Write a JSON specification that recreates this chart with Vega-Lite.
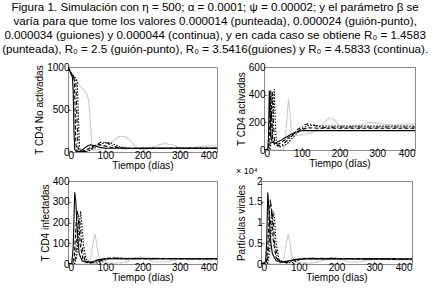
{
"$schema": "https://vega.github.io/schema/vega-lite/v6.json",
"padding": {"left": 2, "top": 1, "right": 0, "bottom": 0},
"background": "white",
"title": {"text": ["Figura 1. Simulación con η = 500; α = 0.0001; ψ = 0.00002; y el parámetro β se", "varía para que tome los valores 0.000014 (punteada), 0.000024 (guión-punto),", "0.000034 (guiones) y 0.000044 (continua), y en cada caso se obtiene R₀ = 1.4583", "(punteada), R₀ = 2.5 (guión-punto), R₀ = 3.5416(guiones) y R₀ = 4.5833 (continua)."], "font": "Liberation Sans", "fontSize": 11.6, "fontWeight": "normal", "lineHeight": 14, "anchor": "middle", "frame": "bounds", "offset": 6, "dx": -10, "color": "#000"},
"config": {
 "view": {"stroke": "#8c8c8c", "strokeWidth": 1},
 "axis": {"labelFont": "Liberation Sans", "titleFont": "Liberation Sans", "labelFontSize": 10, "titleFontSize": 10, "titleFontWeight": "normal", "labelColor": "#000", "titleColor": "#000", "domain": false, "grid": false, "tickColor": "#8c8c8c", "tickSize": -3, "labelPadding": 2},
 "axisX": {"titlePadding": 0, "labelPadding": 1},
 "axisY": {"titlePadding": 2},
 "line": {"strokeWidth": 1.1}
},
"datasets": {
"A": [
{"s":"g","t":0,"v":1000},{"s":"g","t":10,"v":930},{"s":"g","t":20,"v":860},{"s":"g","t":30,"v":790},{"s":"g","t":40,"v":740},{"s":"g","t":50,"v":690},{"s":"g","t":56,"v":600},{"s":"g","t":60,"v":350},{"s":"g","t":64,"v":80},{"s":"g","t":70,"v":20},{"s":"g","t":85,"v":30},{"s":"g","t":100,"v":60},{"s":"g","t":120,"v":130},{"s":"g","t":140,"v":185},{"s":"g","t":155,"v":180},{"s":"g","t":170,"v":120},{"s":"g","t":185,"v":50},{"s":"g","t":200,"v":25},{"s":"g","t":220,"v":40},{"s":"g","t":245,"v":85},{"s":"g","t":260,"v":100},{"s":"g","t":280,"v":85},{"s":"g","t":305,"v":45},{"s":"g","t":330,"v":50},{"s":"g","t":360,"v":65},{"s":"g","t":385,"v":75},{"s":"g","t":400,"v":70},
{"s":"c","t":0,"v":1000},{"s":"c","t":4,"v":960},{"s":"c","t":8,"v":920},{"s":"c","t":12,"v":880},{"s":"c","t":14,"v":700},{"s":"c","t":16,"v":250},{"s":"c","t":18,"v":30},{"s":"c","t":22,"v":5},{"s":"c","t":30,"v":5},{"s":"c","t":40,"v":30},{"s":"c","t":50,"v":65},{"s":"c","t":60,"v":85},{"s":"c","t":70,"v":75},{"s":"c","t":85,"v":55},{"s":"c","t":100,"v":45},{"s":"c","t":130,"v":45},{"s":"c","t":400,"v":45},
{"s":"d","t":0,"v":1000},{"s":"d","t":8,"v":920},{"s":"d","t":14,"v":880},{"s":"d","t":17,"v":850},{"s":"d","t":19,"v":500},{"s":"d","t":21,"v":100},{"s":"d","t":24,"v":10},{"s":"d","t":35,"v":5},{"s":"d","t":50,"v":25},{"s":"d","t":65,"v":65},{"s":"d","t":80,"v":90},{"s":"d","t":95,"v":75},{"s":"d","t":115,"v":55},{"s":"d","t":150,"v":45},{"s":"d","t":400,"v":45},
{"s":"dp","t":0,"v":1000},{"s":"dp","t":8,"v":920},{"s":"dp","t":16,"v":880},{"s":"dp","t":21,"v":840},{"s":"dp","t":24,"v":400},{"s":"dp","t":27,"v":50},{"s":"dp","t":30,"v":5},{"s":"dp","t":45,"v":5},{"s":"dp","t":60,"v":30},{"s":"dp","t":75,"v":80},{"s":"dp","t":90,"v":120},{"s":"dp","t":105,"v":105},{"s":"dp","t":125,"v":65},{"s":"dp","t":155,"v":40},{"s":"dp","t":200,"v":45},{"s":"dp","t":400,"v":45},
{"s":"p","t":0,"v":1000},{"s":"p","t":10,"v":920},{"s":"p","t":20,"v":870},{"s":"p","t":25,"v":830},{"s":"p","t":28,"v":400},{"s":"p","t":31,"v":50},{"s":"p","t":34,"v":5},{"s":"p","t":50,"v":5},{"s":"p","t":70,"v":40},{"s":"p","t":90,"v":95},{"s":"p","t":105,"v":115},{"s":"p","t":120,"v":95},{"s":"p","t":140,"v":60},{"s":"p","t":170,"v":40},{"s":"p","t":220,"v":48},{"s":"p","t":400,"v":45}
],
"B": [
{"s":"g","t":0,"v":0},{"s":"g","t":40,"v":0},{"s":"g","t":50,"v":2},{"s":"g","t":55,"v":30},{"s":"g","t":60,"v":200},{"s":"g","t":65,"v":370},{"s":"g","t":68,"v":300},{"s":"g","t":72,"v":150},{"s":"g","t":78,"v":100},{"s":"g","t":90,"v":105},{"s":"g","t":110,"v":115},{"s":"g","t":130,"v":130},{"s":"g","t":150,"v":165},{"s":"g","t":165,"v":215},{"s":"g","t":175,"v":230},{"s":"g","t":185,"v":220},{"s":"g","t":200,"v":175},{"s":"g","t":215,"v":160},{"s":"g","t":240,"v":170},{"s":"g","t":260,"v":185},{"s":"g","t":280,"v":200},{"s":"g","t":300,"v":195},{"s":"g","t":320,"v":185},{"s":"g","t":340,"v":180},{"s":"g","t":370,"v":185},{"s":"g","t":400,"v":190},
{"s":"c","t":0,"v":0},{"s":"c","t":10,"v":5},{"s":"c","t":12,"v":100},{"s":"c","t":14,"v":430},{"s":"c","t":16,"v":300},{"s":"c","t":18,"v":100},{"s":"c","t":22,"v":55},{"s":"c","t":30,"v":50},{"s":"c","t":45,"v":70},{"s":"c","t":60,"v":95},{"s":"c","t":80,"v":125},{"s":"c","t":100,"v":140},{"s":"c","t":130,"v":140},{"s":"c","t":400,"v":140},
{"s":"d","t":0,"v":0},{"s":"d","t":12,"v":5},{"s":"d","t":15,"v":150},{"s":"d","t":18,"v":430},{"s":"d","t":20,"v":250},{"s":"d","t":23,"v":80},{"s":"d","t":28,"v":40},{"s":"d","t":40,"v":45},{"s":"d","t":60,"v":80},{"s":"d","t":80,"v":120},{"s":"d","t":100,"v":150},{"s":"d","t":120,"v":160},{"s":"d","t":150,"v":157},{"s":"d","t":400,"v":157},
{"s":"dp","t":0,"v":0},{"s":"dp","t":14,"v":5},{"s":"dp","t":18,"v":100},{"s":"dp","t":22,"v":420},{"s":"dp","t":25,"v":200},{"s":"dp","t":28,"v":50},{"s":"dp","t":35,"v":30},{"s":"dp","t":50,"v":40},{"s":"dp","t":70,"v":90},{"s":"dp","t":90,"v":150},{"s":"dp","t":110,"v":185},{"s":"dp","t":120,"v":190},{"s":"dp","t":135,"v":175},{"s":"dp","t":160,"v":163},{"s":"dp","t":200,"v":166},{"s":"dp","t":400,"v":166},
{"s":"p","t":0,"v":0},{"s":"p","t":16,"v":5},{"s":"p","t":22,"v":100},{"s":"p","t":27,"v":440},{"s":"p","t":30,"v":200},{"s":"p","t":33,"v":40},{"s":"p","t":40,"v":20},{"s":"p","t":60,"v":40},{"s":"p","t":80,"v":100},{"s":"p","t":100,"v":155},{"s":"p","t":115,"v":175},{"s":"p","t":130,"v":180},{"s":"p","t":150,"v":174},{"s":"p","t":200,"v":174},{"s":"p","t":400,"v":174}
],
"C": [
{"s":"g","t":0,"v":0},{"s":"g","t":45,"v":0},{"s":"g","t":55,"v":5},{"s":"g","t":62,"v":40},{"s":"g","t":68,"v":110},{"s":"g","t":72,"v":145},{"s":"g","t":76,"v":110},{"s":"g","t":82,"v":40},{"s":"g","t":90,"v":10},{"s":"g","t":110,"v":5},{"s":"g","t":140,"v":5},{"s":"g","t":160,"v":12},{"s":"g","t":180,"v":30},{"s":"g","t":195,"v":35},{"s":"g","t":210,"v":25},{"s":"g","t":230,"v":10},{"s":"g","t":260,"v":10},{"s":"g","t":290,"v":20},{"s":"g","t":320,"v":25},{"s":"g","t":360,"v":20},{"s":"g","t":400,"v":20},
{"s":"c","t":0,"v":0},{"s":"c","t":10,"v":2},{"s":"c","t":14,"v":80},{"s":"c","t":18,"v":345},{"s":"c","t":21,"v":300},{"s":"c","t":25,"v":150},{"s":"c","t":30,"v":50},{"s":"c","t":38,"v":15},{"s":"c","t":50,"v":8},{"s":"c","t":65,"v":10},{"s":"c","t":80,"v":20},{"s":"c","t":100,"v":25},{"s":"c","t":130,"v":25},{"s":"c","t":400,"v":25},
{"s":"d","t":0,"v":0},{"s":"d","t":12,"v":1},{"s":"d","t":17,"v":40},{"s":"d","t":22,"v":200},{"s":"d","t":26,"v":255},{"s":"d","t":29,"v":200},{"s":"d","t":33,"v":90},{"s":"d","t":40,"v":25},{"s":"d","t":50,"v":8},{"s":"d","t":65,"v":8},{"s":"d","t":85,"v":20},{"s":"d","t":105,"v":28},{"s":"d","t":130,"v":25},{"s":"d","t":400,"v":25},
{"s":"dp","t":0,"v":0},{"s":"dp","t":15,"v":1},{"s":"dp","t":20,"v":30},{"s":"dp","t":26,"v":170},{"s":"dp","t":30,"v":220},{"s":"dp","t":33,"v":190},{"s":"dp","t":37,"v":90},{"s":"dp","t":45,"v":20},{"s":"dp","t":60,"v":5},{"s":"dp","t":80,"v":10},{"s":"dp","t":100,"v":25},{"s":"dp","t":120,"v":30},{"s":"dp","t":150,"v":25},{"s":"dp","t":400,"v":25},
{"s":"p","t":0,"v":0},{"s":"p","t":18,"v":1},{"s":"p","t":23,"v":30},{"s":"p","t":30,"v":180},{"s":"p","t":34,"v":255},{"s":"p","t":37,"v":200},{"s":"p","t":41,"v":100},{"s":"p","t":48,"v":25},{"s":"p","t":60,"v":5},{"s":"p","t":80,"v":5},{"s":"p","t":100,"v":20},{"s":"p","t":125,"v":30},{"s":"p","t":150,"v":28},{"s":"p","t":400,"v":25}
],
"D": [
{"s":"g","t":0,"v":0},{"s":"g","t":45,"v":0},{"s":"g","t":55,"v":0.03},{"s":"g","t":62,"v":0.2},{"s":"g","t":68,"v":0.55},{"s":"g","t":72,"v":0.72},{"s":"g","t":76,"v":0.55},{"s":"g","t":82,"v":0.2},{"s":"g","t":90,"v":0.05},{"s":"g","t":110,"v":0.02},{"s":"g","t":140,"v":0.03},{"s":"g","t":165,"v":0.08},{"s":"g","t":185,"v":0.14},{"s":"g","t":195,"v":0.16},{"s":"g","t":210,"v":0.12},{"s":"g","t":230,"v":0.05},{"s":"g","t":260,"v":0.05},{"s":"g","t":290,"v":0.1},{"s":"g","t":320,"v":0.12},{"s":"g","t":360,"v":0.1},{"s":"g","t":400,"v":0.1},
{"s":"c","t":0,"v":0},{"s":"c","t":12,"v":0.05},{"s":"c","t":15,"v":0.5},{"s":"c","t":18,"v":1.72},{"s":"c","t":21,"v":1.3},{"s":"c","t":25,"v":0.6},{"s":"c","t":30,"v":0.25},{"s":"c","t":40,"v":0.08},{"s":"c","t":55,"v":0.05},{"s":"c","t":70,"v":0.07},{"s":"c","t":90,"v":0.11},{"s":"c","t":110,"v":0.12},{"s":"c","t":400,"v":0.12},
{"s":"d","t":0,"v":0},{"s":"d","t":14,"v":0.02},{"s":"d","t":18,"v":0.4},{"s":"d","t":22,"v":1.2},{"s":"d","t":25,"v":1.55},{"s":"d","t":28,"v":1.3},{"s":"d","t":32,"v":0.6},{"s":"d","t":40,"v":0.15},{"s":"d","t":50,"v":0.05},{"s":"d","t":70,"v":0.05},{"s":"d","t":90,"v":0.1},{"s":"d","t":110,"v":0.13},{"s":"d","t":400,"v":0.12},
{"s":"dp","t":0,"v":0},{"s":"dp","t":16,"v":0.02},{"s":"dp","t":20,"v":0.3},{"s":"dp","t":25,"v":1.0},{"s":"dp","t":29,"v":1.3},{"s":"dp","t":32,"v":1.1},{"s":"dp","t":36,"v":0.5},{"s":"dp","t":45,"v":0.1},{"s":"dp","t":60,"v":0.03},{"s":"dp","t":80,"v":0.06},{"s":"dp","t":100,"v":0.12},{"s":"dp","t":120,"v":0.14},{"s":"dp","t":400,"v":0.12},
{"s":"p","t":0,"v":0},{"s":"p","t":18,"v":0.02},{"s":"p","t":23,"v":0.3},{"s":"p","t":29,"v":1.0},{"s":"p","t":33,"v":1.25},{"s":"p","t":36,"v":1.1},{"s":"p","t":40,"v":0.5},{"s":"p","t":48,"v":0.1},{"s":"p","t":65,"v":0.02},{"s":"p","t":85,"v":0.04},{"s":"p","t":105,"v":0.11},{"s":"p","t":125,"v":0.14},{"s":"p","t":150,"v":0.13},{"s":"p","t":400,"v":0.12}
]
},
"spacing": -5,
"vconcat": [
{"hconcat": [
 {"width": 149, "height": 85, "data": {"name": "A"}, "mark": {"type": "line", "clip": true},
  "encoding": {
   "x": {"field": "t", "type": "quantitative", "scale": {"domain": [0, 400], "nice": false}, "axis": {"values": [0, 100, 200, 300, 400], "format": "d", "title": "Tiempo (días)"}},
   "y": {"field": "v", "type": "quantitative", "scale": {"domain": [0, 1000], "nice": false}, "axis": {"values": [0, 500, 1000], "format": "d", "title": "T CD4 No activadas"}},
   "color": {"field": "s", "type": "nominal", "scale": {"domain": ["g", "c", "d", "dp", "p"], "range": ["#cccccc", "#000000", "#000000", "#000000", "#000000"]}, "legend": null},
   "strokeDash": {"field": "s", "type": "nominal", "scale": {"domain": ["g", "c", "d", "dp", "p"], "range": [[1, 0], [1, 0], [4, 2], [4, 2, 1, 2], [1.5, 1.5]]}, "legend": null}
  }},
 {"width": 151, "height": 83, "data": {"name": "B"}, "mark": {"type": "line", "clip": true},
  "encoding": {
   "x": {"field": "t", "type": "quantitative", "scale": {"domain": [0, 400], "nice": false}, "axis": {"values": [0, 100, 200, 300, 400], "format": "d", "title": "Tiempo (días)"}},
   "y": {"field": "v", "type": "quantitative", "scale": {"domain": [0, 600], "nice": false}, "axis": {"values": [0, 200, 400, 600], "format": "d", "title": "T CD4 activadas"}},
   "color": {"field": "s", "type": "nominal", "scale": {"domain": ["g", "c", "d", "dp", "p"], "range": ["#cccccc", "#000000", "#000000", "#000000", "#000000"]}, "legend": null},
   "strokeDash": {"field": "s", "type": "nominal", "scale": {"domain": ["g", "c", "d", "dp", "p"], "range": [[1, 0], [1, 0], [4, 2], [4, 2, 1, 2], [1.5, 1.5]]}, "legend": null}
  }}
], "spacing": 17},
{"hconcat": [
 {"width": 149, "height": 83, "data": {"name": "C"}, "mark": {"type": "line", "clip": true},
  "encoding": {
   "x": {"field": "t", "type": "quantitative", "scale": {"domain": [0, 400], "nice": false}, "axis": {"values": [0, 100, 200, 300, 400], "format": "d", "title": "Tiempo (días)"}},
   "y": {"field": "v", "type": "quantitative", "scale": {"domain": [0, 400], "nice": false}, "axis": {"values": [0, 100, 200, 300, 400], "format": "d", "title": "T CD4 infectadas"}},
   "color": {"field": "s", "type": "nominal", "scale": {"domain": ["g", "c", "d", "dp", "p"], "range": ["#cccccc", "#000000", "#000000", "#000000", "#000000"]}, "legend": null},
   "strokeDash": {"field": "s", "type": "nominal", "scale": {"domain": ["g", "c", "d", "dp", "p"], "range": [[1, 0], [1, 0], [4, 2], [4, 2, 1, 2], [1.5, 1.5]]}, "legend": null}
  }},
 {"width": 151, "height": 83, "data": {"name": "D"}, "mark": {"type": "line", "clip": true},
  "title": {"text": "× 10⁴", "font": "Liberation Sans", "fontSize": 9, "fontWeight": "normal", "anchor": "start", "offset": 0, "color": "#000"},
  "encoding": {
   "x": {"field": "t", "type": "quantitative", "scale": {"domain": [0, 400], "nice": false}, "axis": {"values": [0, 100, 200, 300, 400], "format": "d", "title": "Tiempo (días)"}},
   "y": {"field": "v", "type": "quantitative", "scale": {"domain": [0, 2], "nice": false}, "axis": {"values": [0, 0.5, 1, 1.5, 2], "format": "~g", "title": "Partículas virales"}},
   "color": {"field": "s", "type": "nominal", "scale": {"domain": ["g", "c", "d", "dp", "p"], "range": ["#cccccc", "#000000", "#000000", "#000000", "#000000"]}, "legend": null},
   "strokeDash": {"field": "s", "type": "nominal", "scale": {"domain": ["g", "c", "d", "dp", "p"], "range": [[1, 0], [1, 0], [4, 2], [4, 2, 1, 2], [1.5, 1.5]]}, "legend": null}
  }}
], "spacing": 17}
]
}
